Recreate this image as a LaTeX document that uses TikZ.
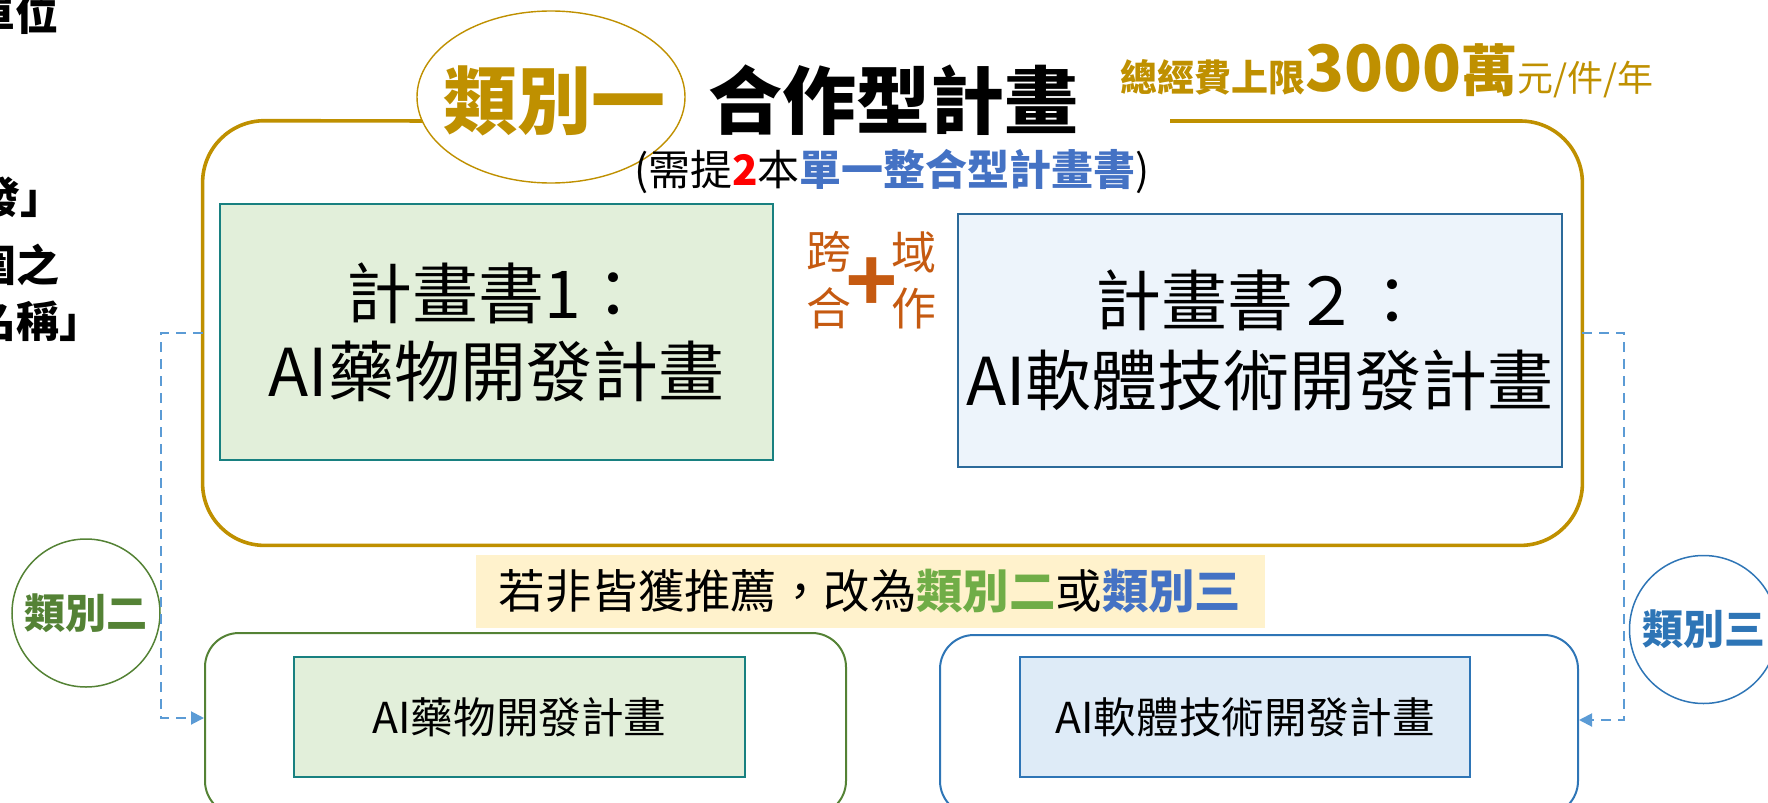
\documentclass[tikz,border=0pt]{standalone}
\usepackage{fontspec}
\setmainfont{Noto Sans CJK TC}
\newfontfamily\plusfont{Liberation Sans}
\usetikzlibrary{shapes.geometric,arrows.meta}
\definecolor{gold}{RGB}{191,144,0}
\definecolor{teal2}{RGB}{24,128,128}
\definecolor{greenfill}{RGB}{226,239,218}
\definecolor{bluefillA}{RGB}{237,244,251}
\definecolor{bluefillB}{RGB}{222,235,247}
\definecolor{steel}{RGB}{44,106,154}
\definecolor{blueline}{RGB}{46,117,182}
\definecolor{darkgreen}{RGB}{84,130,53}
\definecolor{dashblue}{RGB}{91,155,213}
\definecolor{bluetext}{RGB}{68,114,196}
\definecolor{greentext}{RGB}{112,173,71}
\definecolor{orangeB}{RGB}{197,90,17}
\definecolor{yellowfill}{RGB}{255,242,204}
\begin{document}
\begin{tikzpicture}[x=0.5pt,y=-0.5pt,
  every node/.style={inner sep=0pt},
  planbox/.style={draw, line width=1pt, align=center},
  outerbox/.style={draw, line width=1pt, rounded corners=17pt},
  catcircle/.style={circle, draw, line width=0.75pt, minimum size=74pt, font=\fontsize{20.5}{24}\selectfont\bfseries},
  dconn/.style={draw=dashblue, line width=1pt, dash pattern=on 5pt off 3.5pt, -{Triangle[length=6.5pt,width=6.5pt]}},
  sidetext/.style={anchor=east, font=\fontsize{21.5}{25}\selectfont\bfseries},
  crosstext/.style={text=orangeB, font=\fontsize{22.5}{26}\selectfont},
  mainline/.style={draw=gold, line width=1.8pt, rounded corners=31pt},
]
\useasboundingbox (0,0) rectangle (1768,803);

% partial text at the left edge
\node[sidetext] (s1) at (59,14) {單位};
\node[sidetext] (s2) at (64,197) {開發」};
\node[sidetext] (s3) at (60,265) {圍之};
\node[sidetext] (s4) at (103,321) {名稱」};

% main frame
\node[minimum width=689.5pt, minimum height=212pt] (main) at (892.5,333) {};
\coordinate (gapR) at (1170,121);
\coordinate (gapL) at (440,121);
\draw[mainline] (gapR) -| (main.south east) -| (main.north west) -- (gapL);

% title
\node[ellipse, draw=gold, fill=white, line width=0.7pt, minimum width=134pt, minimum height=86pt] (e1) at (551,97) {};
\node[anchor=base west, text=gold, font=\fontsize{37}{40}\selectfont\bfseries] (t1) at (443,128) {類別一};
\node[anchor=base west, font=\fontsize{37}{40}\selectfont\bfseries] (t2) at (708,128) {合作型計畫};
\node[anchor=base west, text=gold] (budget) at (1120,91) {{\fontsize{18.5}{20}\selectfont\bfseries 總經費上限}{\fontsize{32}{34}\selectfont\bfseries 3000}{\fontsize{28}{30}\selectfont\bfseries 萬}{\fontsize{18}{20}\selectfont 元/件/年}};
\node[anchor=base, font=\fontsize{21}{24}\selectfont] (sub) at (892,185) {(需提\textcolor{red}{\bfseries 2}本\textcolor{bluetext}{\bfseries 單一整合型計畫書})};

% plan boxes
\node[planbox, draw=teal2, fill=greenfill, minimum width=276.5pt, minimum height=128pt, font=\fontsize{33}{39}\selectfont] (p1) at (496.5,332) {計畫書1：\\AI藥物開發計畫};
\node[planbox, draw=steel, fill=bluefillA, minimum width=302pt, minimum height=126.5pt, font=\fontsize{33}{40}\selectfont] (p2) at (1260,340.5) {計畫書２：\\AI軟體技術開發計畫};

% cross-domain
\node[crosstext] (k1) at (829,252) {跨};
\node[crosstext] (k2) at (829,308) {合};
\node[crosstext] (k3) at (914,252) {域};
\node[crosstext] (k4) at (914,308) {作};
\node[text=orangeB, font=\plusfont\fontsize{45}{48}\selectfont\bfseries] (plus) at (872,284) {+};

% note
\node[fill=yellowfill, minimum width=394.5pt, minimum height=36.5pt, font=\fontsize{23.2}{26}\selectfont] (note) at (870,591.5) {若非皆獲推薦，改為\textcolor{greentext}{\bfseries 類別二}或\textcolor{bluetext}{\bfseries 類別三}};

% bottom boxes
\node[outerbox, draw=darkgreen, minimum width=320.5pt, minimum height=91pt] (botL) at (525.5,724) {};
\node[outerbox, draw=blueline, minimum width=319pt, minimum height=90pt] (botR) at (1259,725) {};
\node[planbox, draw=teal2, fill=greenfill, minimum width=225.5pt, minimum height=60pt, font=\fontsize{21.3}{24}\selectfont] (bl) at (519.5,717) {AI藥物開發計畫};
\node[planbox, draw=blueline, fill=bluefillB, minimum width=225pt, minimum height=60pt, font=\fontsize{21.3}{24}\selectfont] (br) at (1245,717) {AI軟體技術開發計畫};

% category circles
\node[catcircle, draw=darkgreen, text=darkgreen] (c2) at (86,613) {類別二};
\node[catcircle, draw=blueline, text=blueline] (c3) at (1703.5,629.5) {類別三};

% dashed connectors
\coordinate (lc) at (161,718);
\coordinate (rc) at (1624,720);
\draw[dconn] (main.west) -| (lc) -- (botL.west |- lc);
\draw[dconn] (main.east) -| (rc) -- (botR.east |- rc);
\end{tikzpicture}
\end{document}
